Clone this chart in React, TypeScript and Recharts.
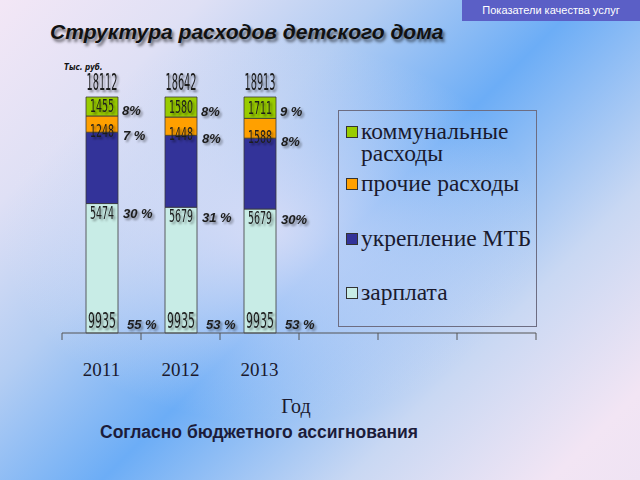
import React from "react";
import { Bar, BarChart, LabelList, Legend, XAxis, YAxis } from "recharts";

// categories (the last three slots are empty on the original slide)
const years = ["2011", "2012", "2013", "", "", ""];

// тыс. руб.
const salary = [9935, 9935, 9935];
const mtb = [5474, 5679, 5679];
const other = [1248, 1448, 1588];
const utilities = [1455, 1580, 1711];

// percent labels as printed on the slide
const pctSalary = ["55 %", "53 %", "53 %"];
const pctMtb = ["30 %", "31 %", "30%"];
const pctOther = ["7 %", "8%", "8%"];
const pctUtilities = ["8%", "8%", "9 %"];

const seriesNames = {
  utilities: "коммунальные расходы",
  other: "прочие расходы",
  mtb: "укрепление МТБ",
  salary: "зарплата",
};

const colors = {
  utilities: "#99cc00",
  other: "#ffa000",
  mtb: "#333399",
  salary: "#c8ece6",
};

const data = years.map((year, i) => ({
  year,
  salary: salary[i] ?? null,
  mtb: mtb[i] ?? null,
  other: other[i] ?? null,
  utilities: utilities[i] ?? null,
}));

const totals = salary.map((v, i) => v + mtb[i] + other[i] + utilities[i]);

const W = 640;
const H = 480;
const PLOT_LEFT = 62;
const PLOT_RIGHT = 536;
const PLOT_TOP = 97;
const PLOT_BOTTOM = 333;
const AXIS_H = 60;
const BAND = (PLOT_RIGHT - PLOT_LEFT) / years.length;

const narrow = "'Liberation Sans Narrow', 'DejaVu Sans Condensed', 'Liberation Sans', sans-serif";
const serif = "'Liberation Serif', 'DejaVu Serif', serif";

function box(props: any) {
  const vb = props.viewBox ?? props;
  return { x: Number(vb.x), y: Number(vb.y), width: Number(vb.width), height: Number(vb.height) };
}

function numText(x: number, y: number, s: string, size: number, perChar: number) {
  return (
    <text
      x={x}
      y={y}
      textAnchor="middle"
      dominantBaseline="central"
      fontFamily={narrow}
      fontSize={size}
      fill="#1d1d1d"
      textLength={s.length * perChar}
      lengthAdjust="spacingAndGlyphs"
      filter="url(#txtShadow)"
    >
      {s}
    </text>
  );
}

function pctText(x: number, y: number, s: string) {
  return (
    <text
      x={x}
      y={y}
      dominantBaseline="central"
      fontFamily="'Liberation Sans', Arial, sans-serif"
      fontSize={13}
      fontWeight="bold"
      fontStyle="italic"
      fill="#1d1d1d"
      filter="url(#txtShadow)"
    >
      {s}
    </text>
  );
}

// value + percent label for each segment; where = where the value sits on the segment
function segmentLabel(values: number[], pcts: string[], where: string) {
  return (props: any) => {
    const i = props.index;
    if (i == null || i >= values.length) return null;
    const { x, y, width, height } = box(props);
    const cx = x + width / 2;
    const bottom = y + height;
    let vy = y + height / 2;
    let py = y + height / 2 + 4;
    let px = x + width + 4;
    let size = 17;
    let perChar = 6;
    if (where === "bottomEdge") {
      vy = bottom - 1;
      py = bottom + 3;
      px = x + width + 5;
    }
    if (where === "below") {
      vy = bottom + 9;
      py = bottom + 10;
      px = x + width + 5;
    }
    if (where === "insideBottom") {
      vy = bottom - 12;
      py = bottom - 9;
      px = x + width + 9;
      size = 21;
      perChar = 7;
    }
    return (
      <g>
        {numText(cx, vy, String(values[i]), size, perChar)}
        {pctText(px, py, pcts[i])}
      </g>
    );
  };
}

function totalLabel(props: any) {
  const i = props.index;
  if (i == null || i >= totals.length) return null;
  const { x, y, width } = box(props);
  return numText(x + width / 2, y - 15, String(totals[i]), 23, 6.2);
}

function AxisTick(props: any) {
  const { x, y, payload, index } = props;
  const half = BAND / 2;
  return (
    <g>
      <line x1={x - half} y1={y} x2={x - half} y2={y + 7} stroke="#555" />
      {index === years.length - 1 && <line x1={x + half} y1={y} x2={x + half} y2={y + 7} stroke="#555" />}
      <text x={x} y={y + 43} textAnchor="middle" fontFamily={serif} fontSize={19} fill="#1a1a2e">
        {payload.value}
      </text>
    </g>
  );
}

const legendOrder: (keyof typeof colors)[] = ["utilities", "other", "mtb", "salary"];
const legendGaps = [0, 8, 33, 32];

function LegendBox() {
  return (
    <div style={{ paddingTop: 9, paddingLeft: 7 }}>
      {legendOrder.map((k, i) => (
        <div key={k} style={{ display: "flex", alignItems: "flex-start", marginTop: legendGaps[i] }}>
          <span
            style={{
              width: 10,
              height: 10,
              marginTop: 6,
              marginRight: 3,
              flex: "none",
              background: colors[k],
              border: "1px solid #333",
            }}
          />
          <span style={{ fontFamily: serif, fontSize: 23.5, lineHeight: "22px", color: "#1a1a2e", width: 176 }}>
            {seriesNames[k]}
          </span>
        </div>
      ))}
    </div>
  );
}

export default function App() {
  return (
    <div
      style={{
        position: "absolute",
        left: 0,
        top: 0,
        width: W,
        height: H,
        overflow: "hidden",
        background:
          "radial-gradient(ellipse 42% 40% at 42% 48%, rgba(232,228,247,0.8), rgba(232,228,247,0) 100%), linear-gradient(135deg, #f3e7f6 0%, #dfe0f5 18%, #b3cdf3 34%, #6cadf6 52%, #c9d8f3 74%, #f2e5f4 92%, #efe3f3 100%)",
      }}
    >
      <svg width={0} height={0} style={{ position: "absolute" }}>
        <defs>
          <filter id="txtShadow" x="-20%" y="-30%" width="150%" height="170%">
            <feDropShadow dx="2" dy="2" stdDeviation="1.2" floodColor="#000" floodOpacity="0.45" />
          </filter>
        </defs>
      </svg>

      <div
        style={{
          position: "absolute",
          left: 462,
          top: 0,
          width: 178,
          height: 21,
          background: "#5b5fc6",
          color: "#fff",
          fontFamily: "'Liberation Sans', Arial, sans-serif",
          fontSize: 11,
          lineHeight: "21px",
          textAlign: "center",
        }}
      >
        Показатели качества услуг
      </div>

      <div
        style={{
          position: "absolute",
          left: 50,
          top: 20,
          fontFamily: "'Liberation Sans', Arial, sans-serif",
          fontSize: 21,
          fontWeight: "bold",
          fontStyle: "italic",
          color: "#111",
          textShadow: "2px 3px 3px rgba(0,0,0,0.55)",
          whiteSpace: "nowrap",
        }}
      >
        Структура расходов детского дома
      </div>

      <div
        style={{
          position: "absolute",
          left: 64,
          top: 63,
          fontFamily: narrow,
          fontSize: 8,
          fontWeight: "bold",
          fontStyle: "italic",
          color: "#111",
        }}
      >
        Тыс. руб.
      </div>

      <div style={{ position: "absolute", left: 0, top: 0 }}>
        <BarChart
          width={W}
          height={H}
          data={data}
          stackOffset="expand"
          margin={{ top: PLOT_TOP, left: PLOT_LEFT, right: W - PLOT_RIGHT, bottom: H - PLOT_BOTTOM - AXIS_H }}
        >
          <XAxis
            dataKey="year"
            height={AXIS_H}
            interval={0}
            tickSize={0}
            tickMargin={0}
            tickLine={false}
            stroke="#555"
            tick={<AxisTick />}
          />
          <YAxis hide domain={[0, 1]} />
          <Legend
            layout="vertical"
            align="center"
            verticalAlign="middle"
            content={() => <LegendBox />}
            wrapperStyle={{
              left: 338,
              top: 110,
              width: 199,
              height: 217,
              border: "1px solid #6d6d82",
              boxSizing: "border-box",
            }}
          />
          <Bar dataKey="salary" name={seriesNames.salary} stackId="a" fill={colors.salary} stroke="#3a3a3a" strokeWidth={0.8} barSize={32} isAnimationActive={false}>
            <LabelList content={segmentLabel(salary, pctSalary, "insideBottom")} />
          </Bar>
          <Bar dataKey="mtb" name={seriesNames.mtb} stackId="a" fill={colors.mtb} stroke="#3a3a3a" strokeWidth={0.8} barSize={32} isAnimationActive={false}>
            <LabelList content={segmentLabel(mtb, pctMtb, "below")} />
          </Bar>
          <Bar dataKey="other" name={seriesNames.other} stackId="a" fill={colors.other} stroke="#3a3a3a" strokeWidth={0.8} barSize={32} isAnimationActive={false}>
            <LabelList content={segmentLabel(other, pctOther, "bottomEdge")} />
          </Bar>
          <Bar dataKey="utilities" name={seriesNames.utilities} stackId="a" fill={colors.utilities} stroke="#3a3a3a" strokeWidth={0.8} barSize={32} isAnimationActive={false}>
            <LabelList content={segmentLabel(utilities, pctUtilities, "center")} />
            <LabelList content={totalLabel} />
          </Bar>
        </BarChart>
      </div>

      <div
        style={{
          position: "absolute",
          left: 0,
          width: 592,
          top: 395,
          textAlign: "center",
          fontFamily: serif,
          fontSize: 20,
          color: "#1a1a2e",
        }}
      >
        Год
      </div>

      <div
        style={{
          position: "absolute",
          left: 100,
          top: 422,
          fontFamily: "'Liberation Sans', Arial, sans-serif",
          fontSize: 17.5,
          fontWeight: "bold",
          color: "#1c1c3a",
          whiteSpace: "nowrap",
        }}
      >
        Согласно бюджетного ассигнования
      </div>
    </div>
  );
}
